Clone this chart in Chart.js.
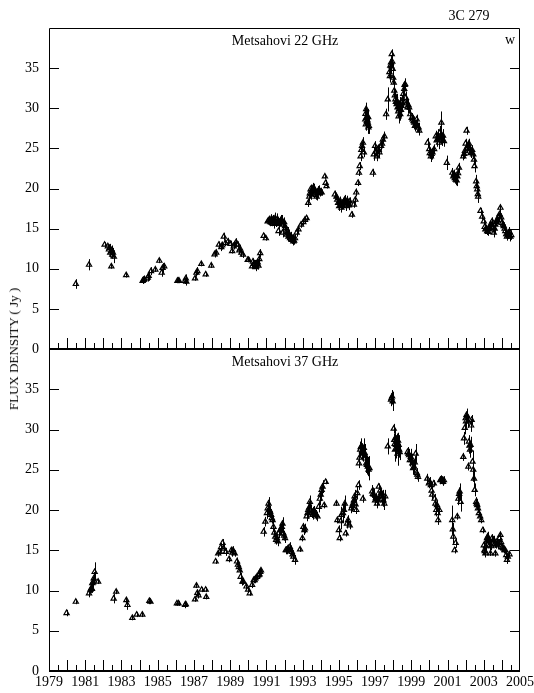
<!DOCTYPE html>
<html>
<head>
<meta charset="utf-8">
<title>3C 279 Metsahovi light curves</title>
<script src="https://cdn.jsdelivr.net/npm/chart.js@4/dist/chart.umd.min.js"></script>
<style>
  html, body { margin: 0; padding: 0; background: #fff; }
  #wrap { position: relative; width: 534px; height: 693px; overflow: hidden;
          font-family: "Liberation Serif", "Times New Roman", serif; color: #000; }
  #wrap canvas { position: absolute; left: 0; }
  .lbl { position: absolute; font-size: 14px; line-height: 14px; white-space: nowrap;
         transform: translate(-50%, -50%); }
  #ylab { font-size: 13px; transform: translate(-50%, -50%) rotate(-90deg); }
</style>
</head>
<body>
<div id="wrap">
  <canvas id="c22" width="534" height="356" style="top:0px"></canvas>
  <canvas id="c37" width="534" height="353" style="top:340px"></canvas>
  <div class="lbl" style="left:469px;top:16px">3C 279</div>
  <div class="lbl" style="left:285px;top:41px">Metsahovi 22 GHz</div>
  <div class="lbl" style="left:510px;top:40px">w</div>
  <div class="lbl" style="left:285px;top:362px">Metsahovi 37 GHz</div>
  <div class="lbl" id="ylab" style="left:14px;top:349px">FLUX DENSITY ( Jy )</div>
</div>
<script>
// Axis tick labels
const yearLabels = [1979, 1981, 1983, 1985, 1987, 1989, 1991, 1993, 1995, 1997, 1999, 2001, 2003, 2005];
const fluxTicks = [0, 5, 10, 15, 20, 25, 30, 35];

// 22 GHz: epoch (yr), flux density (Jy), 1-sigma error (Jy)
const t22 = [
  1980.48, 1981.21, 1982.07, 1982.25, 1982.31, 1982.38, 1982.44, 1982.44, 1982.49, 1982.53, 1982.58,
  1983.26, 1984.17, 1984.22, 1984.27, 1984.45, 1984.50, 1984.63, 1984.87, 1985.09, 1985.22, 1985.27, 1985.36,
  1986.09, 1986.14, 1986.18, 1986.51, 1986.55, 1986.58, 1987.06, 1987.14, 1987.19, 1987.41, 1987.65, 1987.96,
  1988.14, 1988.23, 1988.38, 1988.51, 1988.65, 1988.74, 1988.89, 1989.02, 1989.11, 1989.20, 1989.33, 1989.42,
  1989.51, 1989.55, 1989.62, 1989.71, 1989.97, 1990.02, 1990.21, 1990.26, 1990.35, 1990.40, 1990.43, 1990.48,
  1990.52, 1990.61, 1990.66, 1990.85, 1990.97, 1991.07, 1991.16, 1991.22, 1991.31, 1991.38, 1991.45, 1991.52,
  1991.58, 1991.63, 1991.67, 1991.76, 1991.85, 1991.89, 1991.94, 1992.03, 1992.13, 1992.22, 1992.31, 1992.40,
  1992.49, 1992.58, 1992.67, 1992.77, 1992.91, 1993.04, 1993.13, 1993.22, 1993.31, 1993.37, 1993.44, 1993.50,
  1993.59, 1993.68, 1993.77, 1993.86, 1993.95, 1994.05, 1994.23, 1994.27, 1994.32, 1994.78, 1994.87, 1994.96,
  1995.02, 1995.09, 1995.14, 1995.23, 1995.33, 1995.42, 1995.51, 1995.60, 1995.72, 1995.83, 1995.91, 1995.96,
  1996.06, 1996.11, 1996.15, 1996.20, 1996.28, 1996.33, 1996.38, 1996.46, 1996.49, 1996.51, 1996.54, 1996.57,
  1996.60, 1996.63, 1996.66, 1996.88, 1996.93, 1997.00, 1997.05, 1997.10, 1997.15, 1997.24, 1997.33, 1997.43,
  1997.52, 1997.61, 1997.70, 1997.79, 1997.84, 1997.88, 1997.92, 1997.97, 1998.03, 1998.06, 1998.12, 1998.19,
  1998.24, 1998.28, 1998.33, 1998.39, 1998.46, 1998.52, 1998.61, 1998.66, 1998.70, 1998.79, 1998.88, 1998.94,
  1999.07, 1999.16, 1999.25, 1999.30, 1999.35, 1999.44, 1999.90, 1999.99, 2000.08, 2000.17, 2000.26, 2000.35,
  2000.44, 2000.53, 2000.58, 2000.66, 2000.71, 2000.80, 2000.96, 2001.27, 2001.36, 2001.45, 2001.54, 2001.63,
  2001.87, 2001.96, 2002.05, 2002.13, 2002.22, 2002.31, 2002.42, 2002.49, 2002.58, 2002.64, 2002.69, 2002.82,
  2002.91, 2003.00, 2003.09, 2003.19, 2003.28, 2003.37, 2003.46, 2003.55, 2003.64, 2003.73, 2003.82, 2003.92,
  2004.01, 2004.10, 2004.19, 2004.28, 2004.37, 2004.47,
  // further epochs inside the densely sampled stretches
  1982.35, 1982.47, 1988.55, 1989.25, 1990.30, 1990.45, 1990.56, 1991.12, 1991.27, 1991.41, 1991.48, 1991.70,
  1991.80, 1991.98, 1992.08, 1992.17, 1992.26, 1992.36, 1992.45, 1992.53, 1993.40, 1993.47, 1993.55, 1993.64,
  1993.72, 1993.82, 1993.90, 1994.00, 1994.91, 1995.05, 1995.18, 1995.28, 1995.37, 1995.47, 1995.55, 1996.24,
  1996.47, 1996.52, 1996.58, 1996.62, 1997.20, 1997.38, 1997.82, 1997.90, 1997.95, 1998.00, 1998.09, 1998.15,
  1998.22, 1998.30, 1998.36, 1998.43, 1998.49, 1998.56, 1998.63, 1998.74, 1998.84, 1999.02, 1999.12, 1999.20,
  1999.40, 2000.02, 2000.12, 2000.40, 2000.48, 2000.62, 2000.75, 2001.32, 2001.40, 2001.50, 2001.58, 2001.92,
  2002.00, 2002.10, 2002.18, 2002.27, 2002.36, 2002.46, 2002.61, 2002.67, 2003.05, 2003.14, 2003.24, 2003.32,
  2003.42, 2003.50, 2003.60, 2003.69, 2003.78, 2003.87, 2003.96, 2004.06, 2004.15, 2004.24, 2004.33, 2004.42,
  2004.52
];
const f22 = [
  8.1, 10.5, 13.0, 12.8, 12.4, 12.0, 12.2, 10.3, 11.75, 12.0, 11.5,
  9.2, 8.5, 8.6, 8.7, 8.9, 9.1, 9.7, 9.9, 11.0, 9.5, 10.1, 10.3,
  8.5, 8.5, 8.5, 8.5, 8.8, 8.4, 8.8, 9.5, 9.7, 10.6, 9.3, 10.4,
  11.8, 12.0, 13.0, 12.7, 14.0, 13.2, 13.4, 13.1, 12.2, 12.8, 13.3, 13.0,
  12.3, 12.5, 12.0, 11.75, 11.1, 11.1, 10.3, 10.9, 10.6, 10.2, 10.3, 10.6,
  10.8, 11.2, 11.95, 14.1, 13.8, 15.9, 16.1, 15.8, 15.9, 16.2, 16.0, 15.7,
  16.1, 15.9, 14.7, 15.9, 16.1, 14.5, 15.5, 15.3, 14.25, 14.0, 13.8, 13.6,
  13.4, 13.8, 14.5, 14.9, 15.5, 15.8, 16.1, 16.3, 18.2, 19.0, 19.9, 19.7,
  20.1, 19.5, 19.0, 19.7, 19.5, 19.5, 21.5, 20.7, 20.3, 19.25, 19.0, 18.2,
  17.8, 18.4, 17.6, 18.2, 18.6, 17.8, 18.2, 18.4, 16.75, 18.0, 18.6, 19.5,
  20.7, 21.96, 22.8, 24.0, 25.3, 25.7, 24.5, 28.6, 28.0, 29.9, 28.4, 29.0,
  28.2, 27.6, 27.8, 21.96, 24.25, 25.3, 24.6, 24.0, 24.9, 24.5, 25.3, 26.1,
  26.5, 29.25, 31.1, 34.5, 35.3, 35.7, 36.75, 34.9, 33.2, 32.2, 31.1, 30.5,
  30.1, 29.6, 29.9, 29.25, 30.3, 31.1, 32.4, 33.0, 31.3, 30.1, 30.1, 29.25,
  28.6, 28.2, 28.0, 28.6, 27.6, 27.2, 25.7, 24.9, 24.0, 24.5, 24.9, 26.5,
  26.1, 25.7, 27.0, 28.2, 26.1, 25.9, 23.2, 21.96, 21.75, 21.1, 21.5, 22.6,
  24.0, 24.7, 27.2, 25.3, 24.9, 24.5, 24.25, 22.8, 20.9, 19.9, 19.0, 17.2,
  16.5, 15.9, 14.9, 14.7, 14.9, 15.5, 15.9, 14.5, 15.5, 16.1, 16.5, 17.6,
  15.7, 15.3, 14.7, 14.0, 14.5, 14.0,
  12.6, 12.3, 12.9, 13.0, 10.6, 10.5, 10.4, 16.0, 16.2, 15.6, 16.3, 15.6,
  16.0, 15.8, 14.8, 14.6, 14.3, 14.0, 13.8, 13.5, 19.4, 19.3, 19.9, 20.0,
  19.2, 19.4, 19.8, 19.6, 18.6, 18.3, 18.0, 18.4, 18.0, 18.5, 17.9, 24.8,
  29.3, 28.8, 28.5, 28.9, 24.8, 25.6, 34.0, 35.2, 35.8, 33.8, 31.6, 30.8,
  30.9, 29.0, 30.5, 29.8, 30.8, 31.8, 32.9, 30.6, 30.4, 28.8, 28.4, 27.8,
  27.6, 24.4, 24.3, 26.0, 26.6, 26.4, 26.6, 21.5, 21.3, 21.0, 21.9, 24.3,
  25.6, 25.0, 25.6, 24.4, 24.8, 23.6, 20.3, 19.3, 15.2, 15.0, 14.6, 15.2,
  15.4, 15.1, 15.0, 15.8, 16.0, 16.8, 16.4, 15.5, 15.0, 14.3, 14.2, 14.6,
  14.2
];
const e22 = [
  0.6, 0.7, 0.3, 0.3, 0.5, 0.6, 0.5, 0.3, 0.5, 0.6, 0.8,
  0.3, 0.4, 0.4, 0.4, 0.5, 0.6, 0.5, 0.3, 0.3, 0.5, 0.6, 0.4,
  0.3, 0.3, 0.3, 0.4, 0.5, 0.5, 0.3, 0.5, 0.5, 0.3, 0.3, 0.3,
  0.4, 0.4, 0.4, 0.5, 0.5, 0.4, 0.4, 0.4, 0.3, 0.4, 0.5, 0.4,
  0.5, 0.5, 0.5, 0.4, 0.3, 0.3, 0.3, 0.4, 0.5, 0.5, 0.5, 0.5,
  0.4, 0.5, 0.5, 0.3, 0.3, 0.4, 0.5, 0.5, 0.6, 0.5, 0.6, 0.5,
  0.8, 0.6, 0.6, 0.6, 0.6, 0.6, 0.5, 0.6, 0.5, 0.6, 0.5, 0.5,
  0.5, 0.5, 0.5, 0.4, 0.4, 0.4, 0.4, 0.3, 0.5, 0.6, 0.6, 0.6,
  0.6, 0.6, 0.5, 0.6, 0.5, 0.4, 0.3, 0.4, 0.3, 0.5, 0.5, 0.6,
  0.6, 0.6, 0.6, 0.6, 0.6, 0.6, 0.5, 0.5, 0.4, 0.4, 0.5, 0.5,
  0.4, 0.4, 0.5, 0.6, 0.6, 0.7, 0.6, 0.8, 0.8, 0.8, 0.8, 0.9,
  0.9, 0.8, 1.0, 0.5, 0.8, 0.6, 0.6, 0.6, 0.6, 0.7, 0.6, 0.6,
  0.6, 0.7, 1.5, 0.8, 0.8, 0.8, 0.6, 0.8, 0.8, 0.8, 0.8, 0.8,
  0.8, 0.8, 0.9, 0.8, 0.8, 0.8, 0.8, 0.7, 0.8, 0.7, 0.6, 0.6,
  0.6, 0.8, 0.6, 0.6, 0.6, 0.6, 0.6, 0.7, 0.7, 0.7, 0.6, 0.7,
  0.8, 0.8, 0.8, 1.4, 0.8, 0.7, 0.9, 0.6, 0.6, 0.7, 0.6, 0.6,
  0.5, 0.6, 0.5, 0.6, 0.6, 0.6, 0.6, 0.8, 0.8, 0.6, 0.8, 0.4,
  0.4, 0.4, 0.4, 0.5, 0.5, 0.5, 0.5, 0.6, 0.5, 0.5, 0.5, 0.4,
  0.5, 0.5, 0.5, 0.5, 0.5, 0.6,
  0.5, 0.6, 0.5, 0.4, 0.5, 0.6, 0.5, 0.6, 0.6, 0.6, 0.7, 0.7,
  0.7, 0.6, 0.6, 0.6, 0.6, 0.6, 0.5, 0.5, 0.6, 0.7, 0.6, 0.6,
  0.6, 0.6, 0.6, 0.5, 0.6, 0.6, 0.6, 0.6, 0.6, 0.6, 0.6, 0.6,
  0.8, 0.9, 0.9, 1.0, 0.6, 0.6, 0.8, 0.8, 0.8, 0.8, 0.8, 0.9,
  0.9, 0.9, 0.9, 0.9, 0.8, 0.8, 0.8, 0.8, 0.7, 0.6, 0.7, 0.7,
  0.6, 0.7, 0.7, 0.8, 0.8, 0.8, 0.8, 0.6, 0.7, 0.7, 0.6, 0.6,
  0.6, 0.6, 0.6, 0.6, 0.6, 0.7, 0.7, 0.8, 0.5, 0.5, 0.5, 0.5,
  0.5, 0.6, 0.6, 0.5, 0.5, 0.5, 0.5, 0.5, 0.5, 0.5, 0.5, 0.6,
  0.6
];

// 37 GHz: epoch (yr), flux density (Jy), 1-sigma error (Jy)
const t37 = [
  1979.97, 1980.48, 1981.21, 1981.29, 1981.34, 1981.39, 1981.47, 1981.52, 1981.71, 1982.57, 1982.71,
  1983.27, 1983.33, 1983.60, 1983.84, 1984.15, 1984.54, 1984.60, 1986.06, 1986.15, 1986.51, 1986.55,
  1987.06, 1987.14, 1987.19, 1987.25, 1987.43, 1987.65, 1987.68, 1988.20, 1988.34, 1988.43, 1988.58,
  1988.65, 1988.76, 1988.94, 1989.07, 1989.16, 1989.25, 1989.38, 1989.43, 1989.53, 1989.58, 1989.68,
  1989.73, 1989.90, 1989.99, 1990.08, 1990.21, 1990.30, 1990.35, 1990.48, 1990.57, 1990.66, 1990.70,
  1990.85, 1990.94, 1991.03, 1991.12, 1991.17, 1991.26, 1991.34, 1991.39, 1991.49, 1991.54, 1991.63,
  1991.67, 1991.76, 1991.85, 1991.89, 1991.94, 1992.03, 1992.07, 1992.13, 1992.22, 1992.30, 1992.40,
  1992.49, 1992.58, 1992.86, 1992.99, 1993.04, 1993.13, 1993.22, 1993.31, 1993.40, 1993.50, 1993.59,
  1993.68, 1993.82, 1993.89, 1993.95, 1994.05, 1994.10, 1994.19, 1994.27, 1994.87, 1994.92, 1995.00,
  1995.05, 1995.14, 1995.23, 1995.33, 1995.38, 1995.51, 1995.60, 1995.69, 1995.78, 1995.87, 1995.96,
  1996.02, 1996.09, 1996.11, 1996.18, 1996.24, 1996.33, 1996.33, 1996.38, 1996.46, 1996.51, 1996.60,
  1996.69, 1996.84, 1996.93, 1997.00, 1997.11, 1997.20, 1997.24, 1997.33, 1997.42, 1997.51, 1997.56,
  1997.70, 1997.88, 1997.94, 1997.97, 1998.03, 1998.06, 1998.10, 1998.15, 1998.21, 1998.24, 1998.30,
  1998.33, 1998.79, 1998.88, 1998.97, 1999.06, 1999.15, 1999.24, 1999.30, 1999.37, 1999.88, 1999.97,
  2000.08, 2000.15, 2000.24, 2000.33, 2000.38, 2000.42, 2000.48, 2000.55, 2000.60, 2000.70, 2000.80,
  2001.26, 2001.32, 2001.39, 2001.45, 2001.54, 2001.60, 2001.67, 2001.72, 2001.87, 2001.91, 2002.00,
  2002.05, 2002.13, 2002.15, 2002.18, 2002.24, 2002.27, 2002.33, 2002.42, 2002.46, 2002.58, 2002.64,
  2002.73, 2002.86, 2002.95, 2003.04, 2003.09, 2003.15, 2003.22, 2003.28, 2003.37, 2003.46, 2003.55,
  2003.64, 2003.73, 2003.82, 2003.92, 2004.01, 2004.10, 2004.19, 2004.28, 2004.33, 2004.42,
  // further epochs inside the densely sampled stretches
  1981.37, 1981.43, 1988.50, 1989.12, 1989.48, 1990.40, 1990.62, 1991.07, 1991.21, 1991.30, 1991.44, 1991.58,
  1991.80, 1991.98, 1992.18, 1992.35, 1992.45, 1993.10, 1993.27, 1993.36, 1993.45, 1993.55, 1993.64, 1993.75,
  1994.00, 1995.10, 1995.28, 1995.45, 1995.74, 1995.83, 1995.92, 1996.14, 1996.21, 1996.28, 1996.42, 1996.55,
  1996.64, 1996.88, 1997.05, 1997.15, 1997.28, 1997.38, 1997.46, 1997.91, 1998.08, 1998.12, 1998.18, 1998.27,
  1998.36, 1998.84, 1998.92, 1999.02, 1999.10, 1999.19, 1999.33, 2000.02, 2000.12, 2000.29, 2000.45, 2000.65,
  2000.75, 2001.29, 2001.64, 2001.95, 2002.02, 2002.09, 2002.21, 2002.30, 2002.38, 2002.50, 2002.61, 2002.68,
  2002.80, 2003.00, 2003.06, 2003.12, 2003.18, 2003.25, 2003.32, 2003.42, 2003.50, 2003.60, 2003.68, 2003.78,
  2003.87, 2003.96, 2004.05, 2004.14, 2004.24
];
const f37 = [
  7.2, 8.6, 9.65, 10.1, 10.3, 10.9, 11.5, 12.3, 11.1, 9.0, 9.85,
  8.8, 8.2, 6.6, 7.0, 7.0, 8.7, 8.6, 8.4, 8.4, 8.2, 8.3,
  8.9, 10.6, 9.7, 9.4, 10.1, 10.1, 9.2, 13.6, 14.6, 14.8, 15.9,
  15.2, 14.8, 13.9, 15.0, 15.0, 14.6, 13.6, 13.2, 12.5, 11.7, 11.1,
  11.1, 10.5, 10.1, 9.65, 10.7, 11.3, 11.3, 11.7, 11.9, 12.3, 12.5,
  17.3, 18.55, 19.6, 20.8, 20.0, 19.4, 18.75, 17.9, 16.7, 16.3, 16.1,
  17.1, 17.5, 17.9, 18.3, 17.1, 16.5, 15.0, 15.0, 15.2, 15.4, 14.8,
  14.2, 13.8, 15.1, 16.5, 17.9, 17.7, 19.2, 20.0, 21.0, 19.6, 19.8,
  19.6, 19.2, 20.4, 21.4, 22.5, 22.9, 20.6, 23.5, 20.8, 18.75, 17.5,
  16.5, 19.4, 19.6, 20.8, 17.1, 18.75, 18.1, 20.2, 20.8, 21.7, 20.0,
  22.1, 23.1, 25.8, 27.5, 27.9, 27.0, 21.4, 27.7, 26.4, 25.8, 25.4,
  25.2, 22.3, 21.9, 21.2, 20.8, 22.9, 21.7, 22.1, 21.7, 20.8, 21.7,
  27.9, 33.7, 34.1, 33.5, 30.1, 28.7, 27.5, 28.1, 28.5, 27.0, 28.1,
  27.5, 27.2, 26.8, 26.6, 25.8, 25.4, 27.0, 24.6, 24.1, 23.9, 23.3,
  23.1, 21.9, 23.3, 20.8, 20.0, 20.6, 18.75, 20.0, 23.7, 23.7, 23.7,
  18.75, 16.7, 15.0, 15.9, 19.2, 21.4, 22.3, 21.0, 26.6, 28.9, 31.4,
  31.8, 31.0, 25.4, 28.5, 27.5, 28.1, 31.2, 25.0, 23.9, 21.0, 20.6,
  19.6, 18.75, 17.5, 15.0, 14.6, 16.1, 16.7, 16.1, 14.6, 16.5, 16.3,
  14.6, 16.1, 15.9, 16.9, 15.4, 15.2, 15.0, 13.8, 14.2, 14.5,
  10.2, 11.0, 15.4, 14.7, 12.9, 11.5, 12.0, 20.2, 19.8, 19.0, 17.2, 16.5,
  17.6, 16.8, 15.2, 15.0, 14.5, 17.5, 19.6, 20.3, 20.0, 19.4, 19.9, 19.4,
  21.9, 18.6, 20.0, 18.3, 20.5, 21.2, 20.7, 26.5, 27.8, 27.3, 27.1, 25.6,
  25.0, 22.0, 21.5, 21.2, 22.4, 21.4, 21.2, 33.9, 28.2, 28.9, 27.6, 28.6,
  27.2, 27.0, 26.2, 26.2, 25.2, 25.9, 24.4, 23.5, 22.4, 21.4, 19.6, 23.8,
  23.5, 17.6, 22.0, 30.2, 31.0, 31.6, 28.0, 30.5, 26.0, 22.5, 20.8, 20.2,
  19.2, 15.6, 14.9, 15.5, 16.5, 16.3, 15.6, 15.5, 16.2, 15.8, 15.7, 15.6,
  16.5, 16.0, 15.3, 15.0, 14.4
];
const e37 = [
  0.4, 0.3, 0.5, 0.5, 0.6, 0.6, 0.8, 1.2, 0.3, 0.6, 0.3,
  0.4, 0.6, 0.3, 0.3, 0.3, 0.4, 0.3, 0.3, 0.3, 0.4, 0.3,
  0.3, 0.3, 0.4, 0.4, 0.3, 0.3, 0.3, 0.3, 0.4, 0.4, 0.5,
  0.5, 0.5, 0.4, 0.4, 0.5, 0.4, 0.5, 0.5, 0.5, 0.5, 0.5,
  0.4, 0.4, 0.4, 0.3, 0.4, 0.4, 0.4, 0.4, 0.4, 0.4, 0.3,
  0.6, 0.6, 0.7, 0.8, 0.7, 0.7, 0.6, 0.6, 0.5, 0.6, 0.6,
  0.6, 0.6, 0.7, 0.8, 0.6, 0.6, 0.5, 0.5, 0.5, 0.6, 0.5,
  0.5, 0.6, 0.3, 0.4, 0.5, 0.6, 0.6, 0.7, 0.8, 0.6, 0.6,
  0.5, 0.6, 0.7, 0.8, 0.8, 0.8, 0.4, 0.3, 0.3, 0.4, 0.6,
  0.4, 1.0, 1.2, 1.0, 0.4, 0.6, 0.5, 0.6, 0.8, 0.8, 0.5,
  0.8, 0.6, 0.6, 1.0, 1.0, 1.0, 0.5, 1.2, 1.0, 1.2, 1.2,
  1.5, 0.8, 0.8, 0.6, 0.6, 0.4, 0.6, 0.6, 0.8, 0.8, 0.8,
  1.0, 0.8, 0.8, 1.2, 0.6, 0.8, 1.5, 1.2, 1.0, 1.5, 1.2,
  1.0, 0.6, 0.8, 1.0, 0.8, 0.8, 1.2, 0.6, 0.6, 0.6, 0.6,
  0.5, 0.6, 0.4, 0.6, 0.8, 0.6, 0.6, 0.4, 0.5, 0.5, 0.5,
  1.8, 0.8, 0.4, 0.6, 0.4, 0.8, 1.0, 1.2, 0.5, 0.8, 0.8,
  0.8, 0.8, 0.5, 0.8, 1.0, 1.0, 0.6, 1.5, 1.2, 0.6, 0.6,
  0.5, 0.4, 0.4, 0.6, 0.5, 0.6, 0.6, 0.6, 0.3, 0.5, 0.5,
  0.4, 0.5, 0.4, 0.4, 0.4, 0.4, 0.4, 0.5, 0.4, 0.3,
  0.5, 0.7, 0.5, 0.5, 0.5, 0.4, 0.4, 0.8, 0.7, 0.7, 0.6, 0.6,
  0.7, 0.6, 0.5, 0.6, 0.5, 0.6, 0.7, 0.8, 0.7, 0.6, 0.6, 0.6,
  0.8, 1.0, 1.0, 0.6, 0.7, 0.8, 0.7, 0.8, 1.0, 1.0, 1.1, 1.2,
  1.3, 0.8, 0.6, 0.6, 0.6, 0.7, 0.8, 0.8, 1.0, 1.2, 1.2, 1.0,
  1.0, 0.8, 0.8, 0.8, 0.8, 0.8, 0.6, 0.6, 0.6, 0.6, 0.6, 0.5,
  0.5, 0.8, 0.8, 0.8, 0.8, 0.8, 1.0, 0.8, 1.4, 0.8, 0.6, 0.6,
  0.5, 0.5, 0.5, 0.6, 0.6, 0.6, 0.6, 0.5, 0.5, 0.5, 0.5, 0.5,
  0.5, 0.5, 0.4, 0.4, 0.5
];

// Vertical error bars, drawn underneath the triangle markers
const errorBars = {
  id: 'errorBars',
  beforeDatasetsDraw(chart) {
    const { ctx, scales: { x, y } } = chart;
    const ds = chart.data.datasets[0];
    ctx.save();
    ctx.strokeStyle = '#000';
    ctx.lineWidth = 1;
    ctx.beginPath();
    ds.data.forEach((p, i) => {
      const e = ds.errors[i];
      const px = Math.round(x.getPixelForValue(p.x)) + 0.5;
      ctx.moveTo(px, y.getPixelForValue(p.y - e));
      ctx.lineTo(px, y.getPixelForValue(p.y + e));
    });
    ctx.stroke();
    ctx.restore();
  }
};

// Box frame, inward flux ticks on both sides and half-year ticks on the time axis
const panelFrame = {
  id: 'panelFrame',
  afterDraw(chart) {
    const { ctx, chartArea: { left, right, top, bottom }, scales: { x, y } } = chart;
    ctx.save();
    ctx.strokeStyle = '#000';
    ctx.lineWidth = 1;
    ctx.beginPath();
    ctx.moveTo(left + 0.5, bottom);
    ctx.lineTo(left + 0.5, top + 0.5);
    ctx.lineTo(right - 0.5, top + 0.5);
    ctx.lineTo(right - 0.5, bottom);
    fluxTicks.forEach(v => {
      if (v === 0) return;
      const py = Math.round(y.getPixelForValue(v)) + 0.5;
      ctx.moveTo(left, py); ctx.lineTo(left + 10, py);
      ctx.moveTo(right, py); ctx.lineTo(right - 10, py);
    });
    for (let yr = x.min + 0.5; yr < x.max; yr += 0.5) {
      const px = Math.round(x.getPixelForValue(yr)) + 0.5;
      const len = Number.isInteger(yr) ? 11 : 6;
      ctx.moveTo(px, bottom); ctx.lineTo(px, bottom - len);
    }
    ctx.stroke();
    ctx.lineWidth = 2;
    ctx.beginPath();
    ctx.moveTo(left, bottom);
    ctx.lineTo(right, bottom);
    ctx.stroke();
    ctx.restore();
  }
};

const serif = '"Liberation Serif", "Times New Roman", serif';

function makePanel(canvasId, times, flux, errs, showYears, pad) {
  const points = times.map((t, i) => ({ x: t, y: flux[i] }));
  return new Chart(document.getElementById(canvasId), {
    type: 'scatter',
    data: {
      datasets: [{
        data: points,
        errors: errs,
        pointStyle: 'triangle',
        pointRadius: 3,
        pointBorderWidth: 1.2,
        pointBackgroundColor: 'rgba(255,255,255,0)',
        pointBorderColor: '#000'
      }]
    },
    options: {
      responsive: false,
      animation: false,
      events: [],
      clip: false,
      layout: { padding: pad },
      plugins: { legend: { display: false }, tooltip: { enabled: false }, title: { display: false } },
      scales: {
        x: {
          type: 'linear',
          min: 1979,
          max: 2005,
          display: showYears,
          grid: { display: false, drawTicks: false },
          border: { display: false },
          afterBuildTicks: s => { s.ticks = yearLabels.map(v => ({ value: v })); },
          afterFit: s => { s.height = showYears ? 22 : 0; s.paddingLeft = 0; s.paddingRight = 0; },
          ticks: {
            padding: 3,
            maxRotation: 0,
            autoSkip: false,
            color: '#000',
            font: { family: serif, size: 14 },
            callback: v => String(v)
          }
        },
        y: {
          type: 'linear',
          min: 0,
          max: 40,
          grid: { display: false, drawTicks: false },
          border: { display: false },
          afterBuildTicks: s => { s.ticks = fluxTicks.map(v => ({ value: v })); },
          afterFit: s => { s.width = 49; s.paddingTop = 0; s.paddingBottom = 0; },
          ticks: {
            padding: 10,
            color: '#000',
            font: { family: serif, size: 14 },
            callback: v => String(v)
          }
        }
      }
    },
    plugins: [errorBars, panelFrame]
  });
}

makePanel('c22', t22, f22, e22, false, { top: 28, right: 14, bottom: 7, left: 0 });
makePanel('c37', t37, f37, e37, true, { top: 9, right: 14, bottom: 0, left: 0 });
</script>
</body>
</html>
